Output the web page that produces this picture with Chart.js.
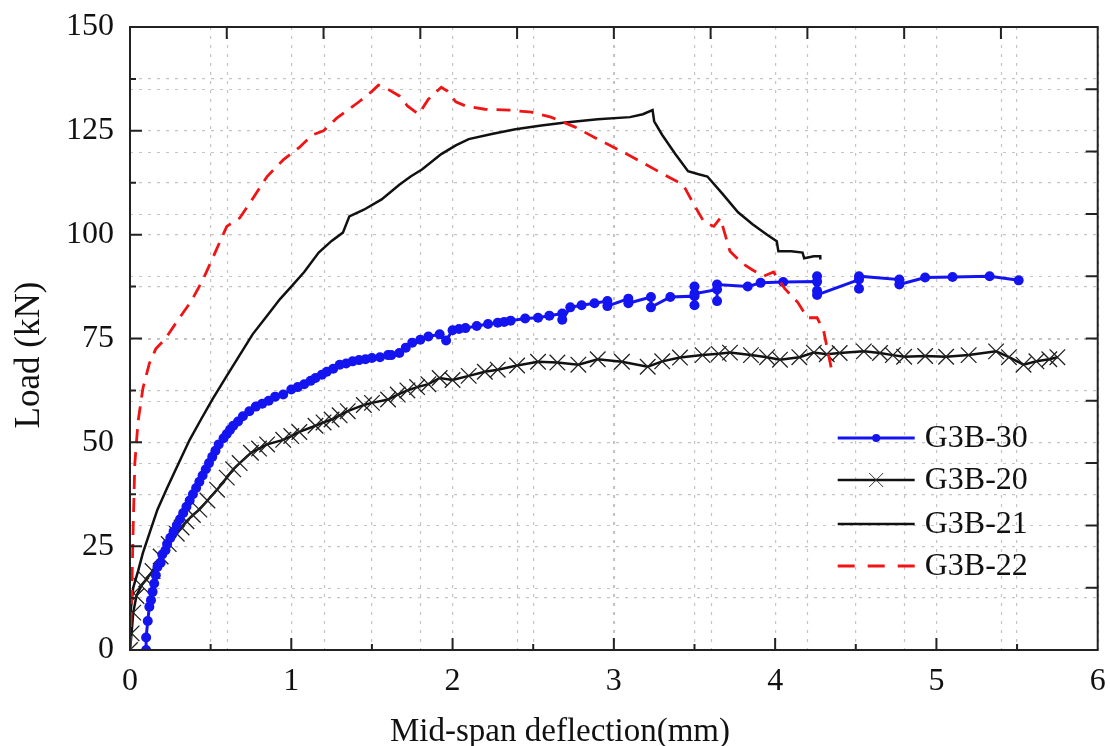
<!DOCTYPE html>
<html>
<head>
<meta charset="utf-8">
<script src="https://cdn.jsdelivr.net/npm/chart.js@4.4.1/dist/chart.umd.min.js"></script>
<style>
    body { margin: 0; background: #fff; }
    #wrap { width: 1110px; height: 746px; position: relative; }
</style>
</head>
<body>
<div id="wrap"><canvas id="loadChart"></canvas></div>
<script>
// G3B-30 (blue, dots)
var g30X = [0.1, 0.1, 0.11, 0.12, 0.13, 0.14, 0.15, 0.16, 0.17, 0.19, 0.2, 0.22, 0.23, 0.25, 0.27, 0.29, 0.31, 0.33, 0.35, 0.37, 0.39, 0.41, 0.43, 0.45, 0.47, 0.49, 0.51, 0.53, 0.55, 0.58, 0.6, 0.62, 0.64, 0.67, 0.7, 0.74, 0.78, 0.82, 0.86, 0.9, 0.95, 1.0, 1.04, 1.08, 1.12, 1.15, 1.19, 1.22, 1.26, 1.3, 1.34, 1.38, 1.42, 1.46, 1.5, 1.55, 1.6, 1.62, 1.67, 1.71, 1.75, 1.8, 1.85, 1.92, 1.96, 2.0, 2.04, 2.08, 2.15, 2.22, 2.28, 2.32, 2.36, 2.45, 2.53, 2.6, 2.68, 2.68, 2.73, 2.8, 2.88, 2.96, 2.96, 3.09, 3.09, 3.23, 3.23, 3.35, 3.5, 3.5, 3.5, 3.5, 3.64, 3.64, 3.64, 3.83, 3.91, 4.05, 4.26, 4.26, 4.26, 4.26, 4.52, 4.52, 4.52, 4.77, 4.77, 4.93, 5.1, 5.33, 5.51];
var g30Y = [0, 3, 7, 10.4, 12, 14, 16, 18, 20, 21, 23, 24, 25.5, 27, 28.5, 30, 31.5, 33, 34.5, 36, 37.5, 39, 40.5, 42, 43.5, 45, 46.5, 48, 49.5, 51, 52, 53, 54, 55, 56.3, 57.5, 58.6, 59.3, 60, 61, 61.5, 62.7, 63.3, 64, 64.8, 65.5, 66.3, 67, 67.7, 68.7, 69, 69.5, 69.8, 70, 70.3, 70.5, 71, 71, 71.5, 72.8, 74, 74.7, 75.5, 76, 74.5, 77, 77.3, 77.5, 78, 78.5, 78.8, 79, 79.3, 79.8, 80, 80.5, 81, 79.5, 82.5, 83, 83.5, 84, 82.8, 84.6, 83.5, 85, 82.5, 85, 85.2, 87.5, 83, 85.8, 86.8, 84, 88, 87.5, 88.4, 88.6, 88.7, 90, 86.5, 85.5, 89.2, 87, 90, 89.2, 88, 89.7, 89.8, 90, 89];

// G3B-20 (black, crosses)
var g20X = [0, 0.01, 0.02, 0.04, 0.07, 0.1, 0.14, 0.19, 0.24, 0.29, 0.32, 0.35, 0.39, 0.43, 0.48, 0.54, 0.6, 0.64, 0.68, 0.75, 0.8, 0.85, 0.95, 1.0, 1.05, 1.15, 1.2, 1.25, 1.3, 1.35, 1.45, 1.5, 1.6, 1.66, 1.72, 1.78, 1.85, 1.92, 2.0, 2.1, 2.2, 2.28, 2.4, 2.53, 2.65, 2.78, 2.9, 3.05, 3.21, 3.3, 3.41, 3.55, 3.65, 3.72, 3.85, 3.95, 4.03, 4.15, 4.24, 4.32, 4.4, 4.55, 4.65, 4.73, 4.8, 4.93, 5.06, 5.2, 5.37, 5.45, 5.54, 5.62, 5.7, 5.75];
var g20Y = [0, 4, 9, 13, 15.5, 17, 19, 22.5, 25.5, 28, 29.5, 31, 32.5, 33.8, 36, 38.6, 41.5, 43.5, 45, 47.5, 48.5, 49.5, 50.6, 51.5, 52.5, 54, 54.8, 55.5, 56.5, 57.5, 59, 59.5, 60.3, 61.5, 62.5, 63.3, 64, 65.5, 65, 66, 67, 67.5, 68.5, 69.4, 69.2, 68.7, 70, 69.4, 68.2, 69.5, 70.4, 71, 71.3, 71.6, 71, 70.5, 69.9, 70.5, 71.6, 71.2, 71.5, 71.9, 71.5, 71, 70.6, 70.8, 70.6, 71, 71.9, 70.5, 68.7, 69.5, 70, 70.5];

// G3B-21 (black solid)
var g21X = [0, 0.02, 0.05, 0.08, 0.12, 0.17, 0.23, 0.29, 0.37, 0.44, 0.51, 0.6, 0.68, 0.76, 0.85, 0.93, 1.0, 1.08, 1.17, 1.25, 1.32, 1.36, 1.45, 1.56, 1.67, 1.74, 1.81, 1.93, 2.02, 2.1, 2.25, 2.39, 2.55, 2.7, 2.9, 3.1, 3.18, 3.24, 3.25, 3.3, 3.38, 3.46, 3.52, 3.58, 3.67, 3.77, 3.86, 3.95, 4.01, 4.02, 4.1, 4.17, 4.18, 4.24, 4.28, 4.28];
var g21Y = [8, 15, 19, 23.4, 28, 33.8, 39, 44, 50.6, 55.5, 60.3, 66, 71, 76, 80.5, 84.5, 87.5, 91, 95.7, 98.5, 100.5, 104.4, 106, 108.5, 112, 114, 115.7, 119.4, 121.5, 123, 124.3, 125.4, 126.3, 127, 127.8, 128.3, 129, 130, 127.3, 124, 119.5, 115.3, 114.6, 114, 110, 105.4, 102.5, 100, 98.4, 96, 96, 95.7, 94.3, 94.8, 94.8, 94];

// G3B-22 (red dashed)
var g22X = [0, 0.01, 0.02, 0.03, 0.05, 0.08, 0.12, 0.16, 0.22, 0.3, 0.38, 0.45, 0.52, 0.6, 0.68, 0.75, 0.85, 0.95, 1.05, 1.13, 1.2, 1.28, 1.35, 1.42, 1.5, 1.54, 1.6, 1.67, 1.72, 1.79, 1.85, 1.93, 1.97, 2.02, 2.08, 2.2, 2.35, 2.49, 2.61, 2.76, 2.9, 3.1, 3.31, 3.43, 3.5, 3.56, 3.62, 3.66, 3.72, 3.8, 3.86, 3.93, 3.99, 4.06, 4.14, 4.2, 4.26, 4.3, 4.35];
var g22Y = [0, 12, 30, 45, 55, 63, 69, 72.5, 75, 79.6, 84, 89, 95, 102, 104, 108, 114, 118, 121, 124, 125, 128, 130, 132, 134.5, 136, 135, 133.4, 131, 129, 132.6, 135.5, 134.5, 132, 131, 130.2, 130, 129.5, 128.3, 125.9, 123, 119, 114.5, 112, 107, 103, 102, 104, 96, 93, 91.5, 90, 91, 87, 83.7, 80, 80, 77, 67.5];

var seriesLabels = ['G3B-30', 'G3B-20', 'G3B-21', 'G3B-22'];
var xTitle = 'Mid-span deflection(mm)';
var yTitle = 'Load (kN)';

var serif = '"Liberation Serif", "Times New Roman", serif';

function toPoints(xs, ys) {
    return xs.map(function(x, i) { return { x: x, y: ys[i] }; });
}

// second grid (0.6 / 15 step), frame with inward ticks, titles and legend
var framePlugin = {
    id: 'frame',
    beforeDatasetsDraw: function(chart) {
        var ctx = chart.ctx, a = chart.chartArea;
        var xs = chart.scales.x, ys = chart.scales.y;
        ctx.save();
        ctx.strokeStyle = '#c4c4c4';
        ctx.lineWidth = 1.2;
        ctx.setLineDash([3, 6]);
        for (var v = 0.6; v < 6; v += 0.6) {
            var px = Math.round(xs.getPixelForValue(v)) + 0.5;
            ctx.beginPath(); ctx.moveTo(px, a.top); ctx.lineTo(px, a.bottom); ctx.stroke();
        }
        for (var w = 15; w < 150; w += 15) {
            var py = Math.round(ys.getPixelForValue(w)) + 0.5;
            ctx.beginPath(); ctx.moveTo(a.left, py); ctx.lineTo(a.right, py); ctx.stroke();
        }
        ctx.restore();
    },
    afterDatasetsDraw: function(chart) {
        var ctx = chart.ctx, a = chart.chartArea;
        var xs = chart.scales.x, ys = chart.scales.y;
        ctx.save();
        ctx.strokeStyle = '#222';
        ctx.lineWidth = 2;
        ctx.setLineDash([]);
        ctx.strokeRect(a.left, a.top, a.right - a.left, a.bottom - a.top);
        ctx.beginPath();
        for (var i = 1; i < 12; i++) {
            var px = xs.getPixelForValue(i * 0.5);
            var len = (i % 2 === 0) ? 12 : 6;
            ctx.moveTo(px, a.bottom); ctx.lineTo(px, a.bottom - len);
        }
        for (var j = 1; j < 12; j++) {
            var py = ys.getPixelForValue(j * 12.5);
            var l2 = (j % 2 === 0) ? 12 : 6;
            ctx.moveTo(a.left, py); ctx.lineTo(a.left + l2, py);
        }
        for (var k = 1; k < 10; k++) {
            var tx = xs.getPixelForValue(k * 0.6);
            ctx.moveTo(tx, a.top); ctx.lineTo(tx, a.top + 12);
        }
        for (var m = 1; m < 10; m++) {
            var ty = ys.getPixelForValue(m * 15);
            ctx.moveTo(a.right, ty); ctx.lineTo(a.right - 12, ty);
        }
        ctx.stroke();
        ctx.restore();
    },
    afterDraw: function(chart) {
        var ctx = chart.ctx, a = chart.chartArea;
        ctx.save();
        // axis titles
        ctx.fillStyle = '#111';
        ctx.font = '33px ' + serif;
        ctx.textAlign = 'center';
        ctx.textBaseline = 'alphabetic';
        ctx.fillText(xTitle, 560, 741);
        ctx.save();
        ctx.translate(30, 355);
        ctx.rotate(-Math.PI / 2);
        ctx.font = '35px ' + serif;
        ctx.textBaseline = 'middle';
        ctx.fillText(yTitle, 0, 0);
        ctx.restore();

        // legend inside the plot, lower right
        var x0 = a.right - 260, x1 = a.right - 183, xm = (x0 + x1) / 2;
        var rows = [438, 480, 524, 566];
        ctx.textAlign = 'left';
        chart.data.datasets.forEach(function(ds, i) {
            var y = rows[i];
            ctx.strokeStyle = ds.borderColor;
            ctx.lineWidth = ds.borderWidth;
            ctx.setLineDash(ds.borderDash ? [17, 13] : []);
            ctx.beginPath(); ctx.moveTo(x0, y); ctx.lineTo(x1, y); ctx.stroke();
            ctx.setLineDash([]);
            if (ds.pointStyle === 'circle') {
                ctx.fillStyle = ds.borderColor;
                ctx.beginPath(); ctx.arc(xm, y, 4, 0, Math.PI * 2); ctx.fill();
            } else if (ds.pointStyle === 'crossRot') {
                ctx.strokeStyle = '#333';
                ctx.lineWidth = 1;
                ctx.beginPath();
                ctx.moveTo(xm - 7, y - 7); ctx.lineTo(xm + 7, y + 7);
                ctx.moveTo(xm - 7, y + 7); ctx.lineTo(xm + 7, y - 7);
                ctx.stroke();
            }
            ctx.fillStyle = '#111';
            ctx.font = '32px ' + serif;
            ctx.textBaseline = 'middle';
            ctx.fillText(ds.label, x1 + 10, y + 1);
        });
        ctx.restore();
    }
};

var ctx = document.getElementById('loadChart');

var loadChart = new Chart(ctx, {
    type: 'line',
    data: {
        datasets: [{
            label: seriesLabels[0],
            data: toPoints(g30X, g30Y),
            borderColor: 'rgb(20, 20, 240)',
            backgroundColor: 'rgb(20, 20, 240)',
            borderWidth: 3,
            pointStyle: 'circle',
            pointRadius: 5,
            pointBorderWidth: 0,
            order: 2
        }, {
            label: seriesLabels[1],
            data: toPoints(g20X, g20Y),
            borderColor: '#111',
            borderWidth: 2.5,
            pointStyle: 'crossRot',
            pointRadius: 11,
            pointBorderColor: '#222',
            pointBorderWidth: 1.3,
            order: 3
        }, {
            label: seriesLabels[2],
            data: toPoints(g21X, g21Y),
            borderColor: '#111',
            borderWidth: 2.5,
            pointRadius: 0,
            order: 1
        }, {
            label: seriesLabels[3],
            data: toPoints(g22X, g22Y),
            borderColor: 'rgb(240, 20, 20)',
            borderWidth: 2.8,
            borderDash: [14, 9],
            pointRadius: 0,
            order: 0
        }]
    },
    options: {
        responsive: true,
        maintainAspectRatio: false,
        animation: false,
        events: [],
        layout: { padding: { left: 10, right: 10, top: 27, bottom: 0 } },
        elements: { line: { tension: 0, fill: false } },
        plugins: {
            legend: { display: false },
            tooltip: { enabled: false }
        },
        scales: {
            x: {
                type: 'linear',
                min: 0,
                max: 6,
                afterFit: function(s) {
                    s.height = 96;
                    s.paddingLeft = 0;
                    s.paddingRight = 0;
                },
                ticks: {
                    stepSize: 0.5,
                    autoSkip: false,
                    maxRotation: 0,
                    padding: 12,
                    color: '#111',
                    font: { family: serif, size: 32 },
                    callback: function(v) { return Number.isInteger(v) ? v : ''; }
                },
                grid: { color: '#c4c4c4', lineWidth: 1.2, drawTicks: false },
                border: { display: false, dash: [3, 6] }
            },
            y: {
                min: 0,
                max: 150,
                afterFit: function(s) {
                    s.width = 120;
                    s.paddingTop = 0;
                    s.paddingBottom = 0;
                },
                ticks: {
                    stepSize: 12.5,
                    autoSkip: false,
                    padding: 16,
                    color: '#111',
                    font: { family: serif, size: 32 },
                    callback: function(v) { return v % 25 === 0 ? v : ''; }
                },
                grid: { color: '#c4c4c4', lineWidth: 1.2, drawTicks: false },
                border: { display: false, dash: [3, 6] }
            }
        }
    },
    plugins: [framePlugin]
});
</script>
</body>
</html>
